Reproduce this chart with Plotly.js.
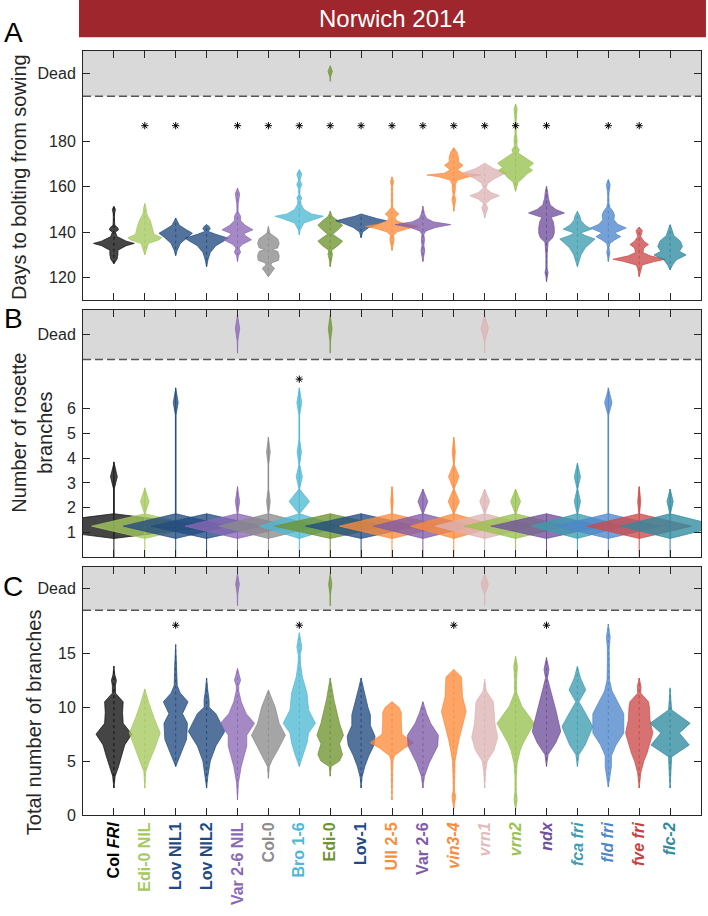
<!DOCTYPE html>
<html><head><meta charset="utf-8">
<script src="https://cdn.plot.ly/plotly-3.0.1.min.js"></script>
<style>html,body{margin:0;padding:0;background:#fff}#chart{width:708px;height:916px}</style>
</head><body><div id="chart"></div>
<script>
// ---------- categories & labels ----------
const categories = ['Col FRI','Edi-0 NIL','Lov NIL1','Lov NIL2','Var 2-6 NIL','Col-0','Bro 1-6','Edi-0','Lov-1','Ull 2-5','Var 2-6','vin3-4','vrn1','vrn2','ndx','fca fri','fld fri','fve fri','flc-2'];
const tickLabels = ['<b>Col <i>FRI</i></b>','<b>Edi-0 NIL</b>','<b>Lov NIL1</b>','<b>Lov NIL2</b>','<b>Var 2-6 NIL</b>','<b>Col-0</b>','<b>Bro 1-6</b>','<b>Edi-0</b>','<b>Lov-1</b>','<b>Ull 2-5</b>','<b>Var 2-6</b>','<b><i>vin3-4</i></b>','<b><i>vrn1</i></b>','<b><i>vrn2</i></b>','<b><i>ndx</i></b>','<b><i>fca fri</i></b>','<b><i>fld fri</i></b>','<b><i>fve fri</i></b>','<b><i>flc-2</i></b>'];
const colors = ['#111111','#a5c95f','#234c82','#234c82','#8a68b5','#8c8c8c','#4fb8d4','#6e9331','#234c82','#fb8c3c','#7f5ca8','#fb8c3c','#ddb3b3','#99c24f','#6f4f9b','#3e9cb0','#4f86cc','#cc4a4a','#2f8aa0'];
const labelColors = ['#000000','#a5c95f','#1f4a85','#1f4a85','#8a68b5','#8c8c8c','#4fb8d4','#6e9331','#1f4a85','#fb8c3c','#7f5ca8','#fb8c3c','#e0bcbc','#99c24f','#6f4f9b','#3e9cb0','#4f86cc','#cc3e3e','#2f8aa0'];

// ---------- Panel A: days to bolting (density profiles: levels / half-widths) ----------
const boltY = [
 [126,128,130,132,134,135,136,138,140,141,142,143,145,148,150,151.4],
 [130,132,135,136.5,137.5,139,142,145,147,148.5,150,152.6],
 [129.6,132,135,137.5,139.5,141,143,146.2],
 [124.7,128,131,134,136,137.3,139,140.3,141.5,142.5,143.3],
 [127,129.5,131.1,133,134.5,136.6,138,139.3,141,143,145,147,149,152,157,159.4],
 [120.3,122.5,124,125.5,126.5,127.5,129.5,131.5,132.3,133,135,137,139.5,142.5],
 [138.8,141,144,146,147,148,150,152.5,154,155,156.5,159,161,163,165.5,167.7],
 [124.7,128,130,132,134,136,138,139,141,143,145,147,149.2],
 [137.5,140,142,144,145,146,147,148],
 [131.9,134,136.6,138.5,140,141.5,142.5,143.5,145,146.5,148,149.5,151,155,160,162.5,164.4],
 [127,130,132,134,136.6,139,140.5,142,143.3,144.5,146,148,151.4],
 [149.2,152,154.4,156.5,158.8,161,163,164.5,165.2,166,167.5,169.5,171,173,175.4,177.3],
 [146.2,148.5,150.7,152.5,154.5,156.1,157.5,159.5,161.5,163.5,166.2,168,170.4],
 [158,160,162,164,165.5,167.3,168.5,170.4,172,173.5,175,176.3,178,181,183,190,194.4,196.6],
 [118.1,120.5,122.1,124,130,135.5,137.5,139.5,142,144.5,146.5,148.4,150,152,155,157.5,160.3],
 [124.7,127,130,133,135.5,136.9,138.5,139.6,141.3,143,145,147,149.2],
 [127,129,131,133,135,136.5,138,139.6,141.8,143.5,145.5,147.5,149.2,151,153,157,161,163.3],
 [120.3,122,124,125.5,127,128,129.5,131,133,134.5,136,138,140.7,142.2],
 [123.3,125.5,127.7,129.9,131.5,133.6,136,138.5,141,143.3]
];
const boltW = [
 [0,0.1,0.13,0.13,0.4,0.66,0.4,0.1,0.05,0.15,0.12,0.03,0.02,0.02,0.05,0],
 [0,0.04,0.12,0.45,0.55,0.3,0.25,0.18,0.1,0.05,0.05,0],
 [0,0.05,0.15,0.35,0.54,0.35,0.12,0],
 [0,0.05,0.12,0.3,0.55,0.7,0.3,0.05,0.12,0.08,0],
 [0,0.03,0.1,0.05,0.15,0.45,0.3,0.2,0.5,0.25,0.1,0.1,0.02,0.02,0.07,0],
 [0,0.12,0.2,0.08,0.12,0.33,0.35,0.3,0.12,0.3,0.35,0.3,0.05,0],
 [0,0.03,0.15,0.55,0.78,0.4,0.15,0.05,0.05,0.08,0.02,0.02,0.08,0.02,0.08,0],
 [0,0.03,0.07,0.05,0.25,0.4,0.2,0.08,0.25,0.4,0.25,0.06,0],
 [0,0.05,0.25,0.6,0.82,0.5,0.2,0],
 [0,0.03,0.07,0.05,0.15,0.5,0.85,0.45,0.15,0.1,0.22,0.1,0.02,0.02,0.02,0.05,0],
 [0,0.04,0.06,0.03,0.05,0.03,0.1,0.4,0.9,0.35,0.12,0.05,0],
 [0,0.02,0.06,0.02,0.05,0.05,0.12,0.5,0.87,0.3,0.12,0.3,0.15,0.15,0.1,0],
 [0,0.04,0.1,0.03,0.2,0.48,0.2,0.04,0.1,0.3,0.7,0.3,0],
 [0,0.03,0.08,0.25,0.35,0.55,0.42,0.58,0.4,0.25,0.08,0.12,0.04,0.05,0.02,0.02,0.05,0],
 [0,0.02,0.05,0.02,0.02,0.05,0.2,0.25,0.25,0.22,0.15,0.58,0.3,0.12,0.06,0.04,0],
 [0,0.05,0.12,0.25,0.45,0.57,0.25,0.1,0.46,0.25,0.12,0.08,0],
 [0,0.02,0.05,0.02,0.05,0.2,0.4,0.2,0.58,0.3,0.18,0.2,0.15,0.05,0.02,0.02,0.06,0],
 [0,0.03,0.05,0.1,0.5,0.85,0.35,0.12,0.15,0.3,0.15,0.05,0.1,0],
 [0,0.08,0.2,0.52,0.3,0.4,0.33,0.12,0.06,0]
];
const boltSig = [0,1,1,0,1,1,1,1,1,1,1,1,1,1,1,0,1,1,0];
const boltDead = [0,0,0,0,0,0,0,1,0,0,0,0,0,0,0,0,0,0,0];
const boltDeadW = [0,0,0,0,0,0,0,0.07,0,0,0,0,0,0,0,0,0,0,0];

// ---------- Panel B: rosette branches ----------
const rosY = [
 [0.75,1.25,1.75,2.75,3.25,3.75,3.85],
 [0.75,1.25,1.75,2.25,2.75,2.8],
 [0.75,1.25,1.75,5.75,6.25,6.75,6.85],
 [0.75,1.25,1.75],
 [0.75,1.25,1.75,2.25,2.75,2.85],
 [0.75,1.25,1.75,2.25,2.75,3.75,4.25,4.75,4.85],
 [0.75,1.25,1.75,2.25,2.75,3.25,3.75,4.25,4.75,5.75,6.25,6.75,6.85],
 [0.75,1.25,1.75],
 [0.75,1.25,1.75],
 [0.75,1.25,1.75,2.25,2.75,2.85],
 [0.75,1.25,1.75,2.25,2.75],
 [0.75,1.25,1.75,2.25,2.75,3.25,3.75,4.25,4.75,4.85],
 [0.75,1.25,1.75,2.25,2.75],
 [0.75,1.25,1.75,2.25,2.75],
 [0.75,1.25,1.75],
 [0.75,1.25,1.75,2.25,2.75,3.25,3.75,3.8],
 [0.75,1.25,1.75,5.75,6.25,6.75,6.85],
 [0.75,1.25,1.75,2.25,2.75,2.85],
 [0.75,1.25,1.75,2.25,2.75]
];
const rosW = [
 [0,3.2,0.01,0.01,0.11,0.01,0],
 [0,1.72,0.01,0.14,0.01,0],
 [0,1.7,0.01,0.01,0.08,0.01,0],
 [0,1.8,0],
 [0,1.7,0.01,0.07,0.01,0],
 [0,1.6,0.01,0.06,0.01,0.01,0.06,0.01,0],
 [0,1.3,0.01,0.33,0.01,0.1,0.01,0.07,0.01,0.01,0.08,0.01,0],
 [0,1.8,0],
 [0,1.8,0],
 [0,1.7,0.01,0.04,0.01,0],
 [0,1.6,0.01,0.16,0],
 [0,1.4,0.01,0.18,0.01,0.17,0.01,0.05,0.01,0],
 [0,1.6,0.01,0.16,0],
 [0,1.65,0.01,0.16,0],
 [0,1.8,0],
 [0,1.5,0.01,0.1,0.01,0.1,0.01,0],
 [0,1.7,0.01,0.01,0.12,0.01,0],
 [0,1.7,0.01,0.05,0.01,0],
 [0,1.6,0.01,0.1,0]
];
const rosSig = [0,0,0,0,0,0,1,0,0,0,0,0,0,0,0,0,0,0,0];
const rosDead = [0,0,0,0,1,0,0,1,0,0,0,0,1,0,0,0,0,0,0];
const rosDeadW = [0,0,0,0,0.07,0,0,0.06,0,0,0,0,0.12,0,0,0,0,0,0];

// ---------- Panel C: total branches ----------
const totY = [
 [2.5,3.6,4.5,5.5,6.5,7.5,8.5,9.5,10.5,11.3,12,12.5,13,13.8],
 [2.5,4,5,6,7.6,9,10.5,11.7],
 [4.5,5.7,7,8.5,9.4,10.5,11.3,12,14,15.8],
 [2.5,3.6,5,6.4,7.75,9.4,10,10.7,11.5,12.7],
 [1.4,3,4.5,5.5,6.4,7.4,8.5,9.4,10.5,11.5,12,12.5,13,13.6],
 [3.4,4.5,5.1,6,7.4,8.5,10,11.6],
 [4.5,5.7,6.7,7.6,8.5,9.75,11.3,12.8,14,14.8,15.6,16.9],
 [3.6,4.5,5,5.6,6.6,7.4,8.5,10.7,12.7],
 [2.5,3.5,4.5,5.5,6.5,7.3,8.3,9.3,10,11.5,12.7],
 [1.4,3,5,5.5,6.2,6.7,7.5,8.5,9.5,10,10.5],
 [2.5,3.6,4.8,6.4,7.4,8.5,9.4,10.5],
 [0.6,1.2,1.7,2.3,3,5,6,7,8.5,9.6,11,12,12.8,13.5],
 [2.5,4,5,6,7.2,8.5,10.5,11.5,12.6],
 [0.5,1.4,2.2,3.5,4.8,6,6.7,8.5,10.1,11.3,12.5,13.8,14.7],
 [4.5,5.6,6.7,7.75,8.5,9.75,11.9,12.7,13.5,14.6],
 [4.5,5.6,6.5,8.2,9.5,10.5,11.6,12.7,13.8],
 [2.6,3.5,4.5,5.5,6.5,7.6,9.4,10.5,11.5,12.5,14,15.5,16.5,17.7],
 [2.5,3.9,5,5.7,7.6,8.8,10,10.5,11.3,11.9,12.7],
 [2.5,4,5.4,6.5,7.6,8.5,9.75,10.5,11.8]
];
const totW = [
 [0,0.04,0.15,0.25,0.35,0.58,0.3,0.28,0.3,0.05,0.05,0.08,0.03,0],
 [0,0.03,0.15,0.3,0.5,0.3,0.12,0],
 [0,0.18,0.35,0.38,0.22,0.4,0.15,0.05,0.03,0],
 [0,0.04,0.12,0.3,0.59,0.3,0.08,0.08,0.04,0],
 [0,0.03,0.12,0.22,0.3,0.3,0.55,0.28,0.12,0.04,0.04,0.1,0.05,0],
 [0,0.03,0.12,0.3,0.55,0.35,0.22,0],
 [0,0.15,0.25,0.3,0.52,0.3,0.25,0.1,0.04,0.03,0.08,0],
 [0,0.03,0.3,0.4,0.3,0.43,0.3,0.12,0],
 [0,0.03,0.12,0.25,0.42,0.45,0.3,0.3,0.22,0.1,0],
 [0,0.02,0.03,0.08,0.4,0.7,0.32,0.3,0.3,0.22,0],
 [0,0.05,0.2,0.48,0.5,0.25,0.12,0],
 [0,0.03,0.06,0.02,0.02,0.04,0.1,0.17,0.3,0.4,0.28,0.27,0.25,0],
 [0,0.03,0.08,0.3,0.42,0.33,0.28,0.05,0],
 [0,0.05,0.02,0.02,0.05,0.15,0.25,0.6,0.2,0.04,0.03,0.06,0],
 [0,0.05,0.3,0.46,0.4,0.3,0.1,0.03,0.08,0],
 [0,0.05,0.25,0.5,0.25,0.05,0.27,0.1,0],
 [0,0.05,0.1,0.1,0.25,0.5,0.5,0.3,0.12,0.04,0.03,0.03,0.06,0],
 [0,0.05,0.15,0.25,0.44,0.35,0.33,0.3,0.05,0.06,0],
 [0,0.03,0.05,0.62,0.3,0.65,0.05,0.03,0]
];
const totSig = [0,0,1,0,0,0,1,0,0,0,0,1,0,0,1,0,0,0,0];
const totDead = [0,0,0,0,1,0,0,1,0,0,0,0,1,0,0,0,0,0,0];
const totDeadW = [0,0,0,0,0.06,0,0,0.05,0,0,0,0,0.12,0,0,0,0,0,0];

// ---------- axis configuration ----------
const panels = [
 {ys:boltY, ws:boltW, sig:boltSig, dead:boltDead, deadW:boltDeadW, range:[110,220], cut:200, deadSpan:[206.5,208.5,211,213.5], star:187,
  tickvals:[120,140,160,180,210], ticktext:['120','140','160','180','Dead'], stem:null},
 {ys:rosY, ws:rosW, sig:rosSig, dead:rosDead, deadW:rosDeadW, range:[0,10], cut:8, deadSpan:[8.25,8.75,9.25,9.8], star:7.2,
  tickvals:[1,2,3,4,5,6,9], ticktext:['1','2','3','4','5','6','Dead'], stem:0},
 {ys:totY, ws:totW, sig:totSig, dead:totDead, deadW:totDeadW, range:[0,23], cut:19, deadSpan:[19.4,20.5,21.4,22.4], star:17.6,
  tickvals:[0,5,10,15,21], ticktext:['0','5','10','15','Dead'], stem:null}
];
const domains = [[0.6741,1],[0.3377,0.6610],[0,0.3246]];
const positions = categories.map((c,i)=>i+1);

function rgba(hex,a){const n=parseInt(hex.slice(1),16);return `rgba(${n>>16&255},${n>>8&255},${n&255},${a})`;}

const traces = [];
function violin(pos, ys, ws, color, xa, ya){
  const x = ys.map((y,k)=>pos+ws[k]).concat(ys.slice().reverse().map((y,k)=>pos-ws[ws.length-1-k]));
  const y = ys.concat(ys.slice().reverse());
  traces.push({type:'scatter', mode:'lines', x:x, y:y, xaxis:xa, yaxis:ya, fill:'toself',
    fillcolor:rgba(color,0.78), line:{color:rgba(color,0.9), width:0.8}, hoverinfo:'skip'});
}

panels.forEach((p,pi)=>{
  const xa = pi===0?'x':'x'+(pi+1), ya = pi===0?'y':'y'+(pi+1);
  categories.forEach((c,i)=>{
    const pos = positions[i];
    violin(pos, p.ys[i], p.ws[i], colors[i], xa, ya);
    const ymin = p.stem!==null ? p.stem : p.ys[i][0];
    const ymax = p.ys[i][p.ys[i].length-1];
    traces.push({type:'scatter', mode:'lines', x:[pos,pos], y:[ymin,ymax], xaxis:xa, yaxis:ya,
      line:{color:colors[i], width:1, dash: p.stem!==null?'solid':'dot'}, hoverinfo:'skip'});
    if(p.dead[i]){
      violin(pos, p.deadSpan, [0,0.01,p.deadW[i],0], colors[i], xa, ya);
    }
  });
  const sx = positions.filter((v,i)=>p.sig[i]);
  traces.push({type:'scatter', mode:'markers', x:sx, y:sx.map(()=>p.star), xaxis:xa, yaxis:ya,
    marker:{symbol:'asterisk-open', size:6, color:'#000', line:{color:'#222', width:1}}, hoverinfo:'skip'});
});

const axisLine = {showline:true, linecolor:'#262626', linewidth:1, mirror:'ticks', ticks:'inside', ticklen:7, tickcolor:'#262626', showgrid:false, zeroline:false};
const layout = {
  width:708, height:916, margin:{l:83, r:7, t:51, b:101},
  paper_bgcolor:'#ffffff', plot_bgcolor:'#ffffff', showlegend:false,
  font:{family:'Liberation Sans, Arial, sans-serif', color:'#262626', size:16},
  shapes:[], annotations:[]
};
panels.forEach((p,pi)=>{
  const sfx = pi===0?'':String(pi+1);
  layout['xaxis'+sfx] = Object.assign({}, axisLine, {domain:[0,1], anchor:'y'+sfx, range:[0,20], tickvals:positions,
    ticktext: tickLabels.map((t,i)=>`<span style="color:${labelColors[i]}">${t}</span>`),
    showticklabels: pi===2, tickangle:-90, tickfont:{size:16, family:'Liberation Sans, Arial, sans-serif'}});
  layout['yaxis'+sfx] = Object.assign({}, axisLine, {domain:domains[pi], anchor:'x'+sfx, range:p.range,
    tickvals:p.tickvals, ticktext:p.ticktext, tickfont:{size:16, color:'#262626'}, ticklabelstandoff:3});
  layout.shapes.push({type:'rect', xref:'x'+sfx+' domain', yref:'y'+sfx, x0:0, x1:1, y0:p.cut, y1:p.range[1],
    fillcolor:'#d9d9d9', line:{width:0}, layer:'below'});
  layout.shapes.push({type:'line', xref:'x'+sfx+' domain', yref:'y'+sfx, x0:0, x1:1, y0:p.cut, y1:p.cut,
    line:{color:'#555555', width:1.5, dash:'8px,4px'}, layer:'above'});
});
// banner
layout.shapes.push({type:'rect', xref:'paper', yref:'paper', x0:-0.0065, x1:1.008, y0:1.018, y1:1.0675,
  fillcolor:'#9e262c', line:{width:0}});
layout.annotations.push({xref:'paper', yref:'paper', x:0.5, y:1.043, text:'Norwich 2014', showarrow:false,
  font:{size:24, color:'#ffffff'}, xanchor:'center', yanchor:'middle'});
// y titles
layout.annotations.push({xref:'paper', yref:'paper', x:-0.1036, y:0.835, text:'Days to bolting from sowing', textangle:-90,
  showarrow:false, font:{size:20, color:'#262626'}, xanchor:'center', yanchor:'middle'});
layout.annotations.push({xref:'paper', yref:'paper', x:-0.083, y:0.5, text:'Number of rosette<br>branches', textangle:-90,
  showarrow:false, font:{size:20, color:'#262626'}, xanchor:'center', yanchor:'middle'});
layout.annotations.push({xref:'paper', yref:'paper', x:-0.079, y:0.1217, text:'Total number of branches', textangle:-90,
  showarrow:false, font:{size:20, color:'#262626'}, xanchor:'center', yanchor:'middle'});
// panel letters
[['A',1.0236],['B',0.6505],['C',0.2997]].forEach(([t,yy])=>{
  layout.annotations.push({xref:'paper', yref:'paper', x:-0.113, y:yy, text:t, showarrow:false,
    font:{size:28, color:'#000'}, xanchor:'center', yanchor:'middle'});
});

Plotly.newPlot('chart', traces, layout, {staticPlot:true});
</script></body></html>
